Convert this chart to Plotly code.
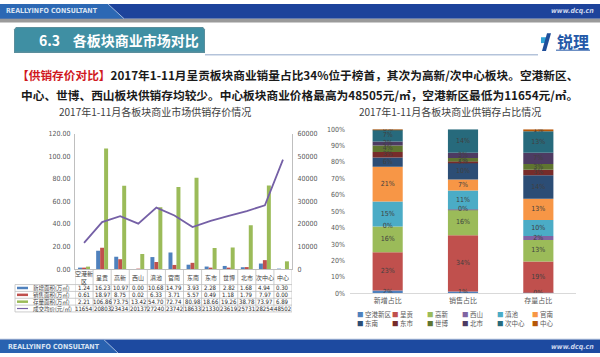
import plotly.graph_objects as go
import numpy as np

# ---------------- data ----------------
categories = ['空港新区', '呈贡', '高新', '西山', '滇池', '官南', '东南', '东市', '世博', '北市', '次中心', '中心']
cat_labels = ['空港新<br>区', '呈贡', '高新', '西山', '滇池', '官南', '东南', '东市', '世博', '北市', '次中心', '中心']
new_area = [1.24, 16.23, 10.97, 0.00, 10.68, 14.79, 3.93, 2.28, 2.82, 1.68, 4.94, 0.30]
sold_area = [0.61, 18.97, 8.75, 0.02, 6.33, 3.71, 5.57, 0.49, 1.18, 1.79, 7.97, 0.00]
stock_area = [2.21, 106.86, 73.75, 13.42, 54.70, 72.74, 80.98, 18.66, 19.26, 38.78, 73.97, 6.89]
avg_price = [11654, 20803, 23434, 20137, 27240, 23742, 18633, 21330, 23619, 25731, 28254, 48502]
series_names = ['新增面积(万㎡)', '销售面积(万㎡)', '存量面积(万㎡)', '成交均价(元/㎡)']
share_cats = ['新增占比', '销售占比', '存量占比']
left_ticks = [0, 20, 40, 60, 80, 100, 120]
right_ticks = [0, 10000, 20000, 30000, 40000, 50000, 60000]
share_ticks = [0, 10, 20, 30, 40, 50, 60, 70, 80, 90, 100]

# ---------------- styles ----------------
W, H = 600, 357
bar_colors = ['#4F81BD', '#C0504D', '#9BBB59']
line_color = '#7560A6'
cat_colors = ['#4F81BD', '#C0504D', '#9BBB59', '#8064A2', '#4BACC6', '#F79646',
              '#2C4D75', '#772C2A', '#5F7530', '#4D3B62', '#276A7C', '#B65708']
CJK = 'Noto Sans CJK SC, Liberation Sans, sans-serif'
NUM = 'Liberation Sans Narrow, DejaVu Sans Condensed, Liberation Sans, sans-serif'
txt_gray = '#404040'


def px(x):
    return x / W


def py(y):
    return 1 - y / H


def path(points):
    s = ''
    for i, (x, y) in enumerate(points):
        s += ('M' if i == 0 else 'L') + f'{px(x):.5f},{py(y):.5f} '
    return s + 'Z'


fig = go.Figure()

# ---------------- left chart ----------------
offsets = [-0.33, -0.11, 0.11]
for vals, name, col, off in zip([new_area, sold_area, stock_area], series_names[:3], bar_colors, offsets):
    fig.add_trace(go.Bar(x=categories, y=vals, name=name, marker=dict(color=col, line=dict(width=0)),
                         offset=off, width=0.22, xaxis='x', yaxis='y', hoverinfo='skip'))
fig.add_trace(go.Scatter(x=categories, y=avg_price, name=series_names[3], mode='lines',
                         line=dict(color=line_color, width=1.8), xaxis='x', yaxis='y2'))

# ---------------- right chart ----------------
mats = np.array([new_area, sold_area, stock_area], dtype=float)
shares = mats / mats.sum(axis=1, keepdims=True) * 100  # shape (3, 12)
base = np.zeros(3)
lab_x, lab_y, lab_t = [], [], []
for i, cat in enumerate(categories):
    vals = shares[:, i]
    fig.add_trace(go.Bar(x=share_cats, y=vals, base=base.copy(), name=cat, width=0.4,
                         marker=dict(color=cat_colors[i], line=dict(width=0)),
                         xaxis='x3', yaxis='y3', hoverinfo='skip'))
    for j in range(3):
        if mats[j, i] > 0 or j == 0:
            lab_x.append(share_cats[j])
            lab_y.append(base[j] + vals[j] / 2)
            lab_t.append(f'{int(np.floor(vals[j] + 0.5))}%')
    base = base + vals
fig.add_trace(go.Scatter(x=lab_x, y=lab_y, text=lab_t, mode='text',
                         textfont=dict(size=7, color=txt_gray, family=NUM),
                         xaxis='x3', yaxis='y3', hoverinfo='skip'))

# ---------------- axes ----------------
axfont = dict(size=7, color='#595959', family=NUM)
fig.update_layout(
    width=W, height=H, margin=dict(l=0, r=0, t=0, b=0),
    paper_bgcolor='white', plot_bgcolor='white', showlegend=False,
    barmode='overlay', font=dict(family=CJK),
    xaxis=dict(domain=[px(75), px(292)], anchor='y', type='category', categoryorder='array',
               categoryarray=categories, showticklabels=False, ticks='', showgrid=False,
               showline=True, linecolor='#BFBFBF', linewidth=1, range=[-0.5, 11.5], zeroline=False),
    yaxis=dict(domain=[py(271.2), py(132.6)], anchor='x', range=[0, 120], tickvals=left_ticks,
               tickformat='.2f', showgrid=False, zeroline=False, showline=True, linecolor='#BFBFBF',
               ticks='', tickfont=axfont, ticklabelstandoff=2),
    yaxis2=dict(overlaying='y', side='right', anchor='x', range=[0, 60000], tickvals=right_ticks,
                tickformat='d', showgrid=False, zeroline=False, showline=True, linecolor='#BFBFBF',
                ticks='', tickfont=axfont, ticklabelstandoff=3),
    xaxis3=dict(domain=[px(350), px(576)], anchor='y3', type='category', categoryorder='array',
                categoryarray=share_cats, showgrid=False, showline=True, linecolor='#D9D9D9',
                ticks='', tickfont=dict(size=7, color='#595959', family=CJK), zeroline=False),
    yaxis3=dict(domain=[py(296), py(128)], anchor='x3', range=[0, 100], tickvals=share_ticks,
                ticktext=[f'{t}%' for t in share_ticks], showgrid=False, zeroline=False,
                showline=False, ticks='', tickfont=axfont, ticklabelstandoff=4),
)

shapes = []
ann = []

# ---------------- header / footer decoration ----------------
shapes.append(dict(type='rect', xref='paper', yref='paper', x0=0, x1=1, y0=py(15), y1=1,
                   fillcolor='#1D439B', line=dict(width=0), layer='below'))
shapes.append(dict(type='path', xref='paper', yref='paper',
                   path=path([(0, 0), (108, 0), (124, 15), (0, 15)]),
                   fillcolor='#2C68B4', line=dict(width=0), layer='below'))
shapes.append(dict(type='line', xref='paper', yref='paper', x0=px(108), x1=px(124), y0=py(0), y1=py(15),
                   line=dict(color='#9FB8DE', width=1)))
shapes.append(dict(type='rect', xref='paper', yref='paper', x0=0, x1=1, y0=py(19), y1=py(15),
                   fillcolor='#9A9A9A', line=dict(width=0), layer='below'))
ann.append(dict(text='<b>REALLYINFO CONSULTANT</b>', x=px(4), y=py(7.5), xref='paper', yref='paper',
                xanchor='left', yanchor='middle', showarrow=False,
                font=dict(size=7, color='#D8E2F2', family='DejaVu Sans Condensed, sans-serif')))
ann.append(dict(text='<b><i>www.dcq.cn</i></b>', x=px(596), y=py(7.5), xref='paper', yref='paper',
                xanchor='right', yanchor='middle', showarrow=False,
                font=dict(size=7, color='#C9D5EC', family='DejaVu Sans Condensed, sans-serif')))

# footer
shapes.append(dict(type='rect', xref='paper', yref='paper', x0=0, x1=1, y0=0, y1=py(343.5),
                   fillcolor='#1D4AA0', line=dict(width=0), layer='below'))
shapes.append(dict(type='path', xref='paper', yref='paper',
                   path=path([(0, 343.5), (104, 343.5), (118, 357), (0, 357)]),
                   fillcolor='#2962B0', line=dict(width=0), layer='below'))
shapes.append(dict(type='line', xref='paper', yref='paper', x0=px(104), x1=px(118), y0=py(343.5), y1=py(357),
                   line=dict(color='#9FB8DE', width=1)))
shapes.append(dict(type='line', xref='paper', yref='paper', x0=0, x1=1, y0=py(343), y1=py(343),
                   line=dict(color='#7E97C4', width=1)))
ann.append(dict(text='<b>REALLYINFO CONSULTANT</b>', x=px(6), y=py(350.5), xref='paper', yref='paper',
                xanchor='left', yanchor='middle', showarrow=False,
                font=dict(size=7, color='#D8E2F2', family='DejaVu Sans Condensed, sans-serif')))
ann.append(dict(text='<b><i>www.dcq.cn</i></b>', x=px(596), y=py(350.5), xref='paper', yref='paper',
                xanchor='right', yanchor='middle', showarrow=False,
                font=dict(size=7, color='#C9D5EC', family='DejaVu Sans Condensed, sans-serif')))

# title tab
shapes.append(dict(type='path', xref='paper', yref='paper',
                   path=path([(14, 50), (14, 26), (16, 23.5), (203, 23.5), (205, 26), (205, 50)]),
                   fillcolor='#5A8E9C', line=dict(width=0), layer='below'))
shapes.append(dict(type='path', xref='paper', yref='paper',
                   path=path([(15, 48.5), (15, 26.5), (17, 24.5), (202, 24.5), (204, 26.5), (204, 48.5)]),
                   fillcolor='#3F8FA3', line=dict(width=0), layer='below'))
shapes.append(dict(type='line', xref='paper', yref='paper', x0=px(205), x1=px(538), y0=py(52), y1=py(52),
                   line=dict(color='#8FA6C8', width=1)))
ann.append(dict(text='<b>6.3    各板块商业市场对比</b>', x=px(37), y=py(37), xref='paper', yref='paper',
                xanchor='left', yanchor='middle', showarrow=False,
                font=dict(size=14, color='white', family=CJK)))

# logo
shapes.append(dict(type='path', xref='paper', yref='paper',
                   path=path([(541, 34), (546, 34), (546, 40), (541, 40)]),
                   fillcolor='#2FA2D6', line=dict(width=0)))
shapes.append(dict(type='path', xref='paper', yref='paper',
                   path=path([(547, 30), (551, 30), (546, 48), (542, 48)]),
                   fillcolor='#1F4E9A', line=dict(width=0)))
shapes.append(dict(type='rect', xref='paper', yref='paper', x0=px(556), x1=px(590), y0=py(48), y1=py(46.5),
                   fillcolor='#6C8FC4', line=dict(width=0)))
ann.append(dict(text='<b>锐理</b>', x=px(573), y=py(37.5), xref='paper', yref='paper',
                xanchor='center', yanchor='middle', showarrow=False,
                font=dict(size=16, color='#2459A8', family=CJK)))

# paragraph
line1 = ('<b><span style="color:#D0181E">【供销存价对比】</span>'
         '2017年1-11月呈贡板块商业销量占比34%位于榜首，其次为高新/次中心板块。空港新区、</b>')
line2 = '<b>中心、世博、西山板块供销存均较少。中心板块商业价格最高为48505元/㎡，空港新区最低为11654元/㎡。</b>'
ann.append(dict(text=line1, x=px(15), y=py(72), xref='paper', yref='paper', xanchor='left',
                yanchor='middle', showarrow=False, font=dict(size=11.7, color='#1A1A1A', family=CJK)))
ann.append(dict(text=line2, x=px(19), y=py(93), xref='paper', yref='paper', xanchor='left',
                yanchor='middle', showarrow=False, font=dict(size=11.7, color='#1A1A1A', family=CJK)))

# chart titles
ann.append(dict(text='2017年1-11月各板块商业市场供销存价情况', x=px(155), y=py(110), xref='paper',
                yref='paper', xanchor='center', yanchor='middle', showarrow=False,
                font=dict(size=10, color=txt_gray, family=CJK)))
ann.append(dict(text='2017年1-11月各板块商业供销存占比情况', x=px(450), y=py(110), xref='paper',
                yref='paper', xanchor='center', yanchor='middle', showarrow=False,
                font=dict(size=10, color=txt_gray, family=CJK)))

# ---------------- data table under left chart ----------------
grid_col = '#BFBFBF'
row_edges = [287, 294, 301, 308, 315]
row_centers = [(row_edges[k] + row_edges[k + 1]) / 2 for k in range(4)]
for k in range(13):
    shapes.append(dict(type='line', xref='x', yref='paper', x0=k - 0.5, x1=k - 0.5,
                       y0=py(272), y1=py(315), line=dict(color=grid_col, width=0.8)))
shapes.append(dict(type='line', xref='paper', yref='paper', x0=px(15), x1=px(15),
                   y0=py(287), y1=py(315), line=dict(color=grid_col, width=0.8)))
for ye in row_edges:
    shapes.append(dict(type='line', xref='paper', yref='paper', x0=px(15), x1=px(292),
                       y0=py(ye), y1=py(ye), line=dict(color=grid_col, width=0.8)))

for i, lab in enumerate(cat_labels):
    ann.append(dict(text=lab, x=categories[i], y=py(279.5), xref='x', yref='paper',
                    xanchor='center', yanchor='middle', showarrow=False,
                    font=dict(size=6, color=txt_gray, family=CJK)))

table_rows = [[f'{v:.2f}' for v in new_area], [f'{v:.2f}' for v in sold_area],
              [f'{v:.2f}' for v in stock_area], [f'{v:d}' for v in avg_price]]
key_colors = bar_colors + [line_color]
for r in range(4):
    yc = row_centers[r]
    shapes.append(dict(type='line', xref='paper', yref='paper', x0=px(17), x1=px(28),
                       y0=py(yc), y1=py(yc),
                       line=dict(color=key_colors[r], width=2.5 if r < 3 else 1.2)))
    ann.append(dict(text=series_names[r], x=px(30.5), y=py(yc), xref='paper', yref='paper',
                    xanchor='left', yanchor='middle', showarrow=False,
                    font=dict(size=5.5, color=txt_gray, family=CJK)))
    for i, val in enumerate(table_rows[r]):
        ann.append(dict(text=val, x=categories[i], y=py(yc), xref='x', yref='paper',
                        xanchor='center', yanchor='middle', showarrow=False,
                        font=dict(size=6, color='#262626', family=NUM)))

# ---------------- legend for right chart ----------------
for i, cat in enumerate(categories):
    row, col = divmod(i, 6)
    ann.append(dict(text=f'<span style="color:{cat_colors[i]}">■</span> {cat}',
                    x=px(355 + col * 35), y=py(317 + row * 9.5), xref='paper', yref='paper',
                    xanchor='left', yanchor='middle', showarrow=False,
                    font=dict(size=6.5, color='#595959', family=CJK)))

fig.update_layout(shapes=shapes, annotations=ann)
fig.write_html('out.html', config={'displayModeBar': False},
               post_script="document.body.style.margin='0px';document.body.style.overflow='hidden';")
